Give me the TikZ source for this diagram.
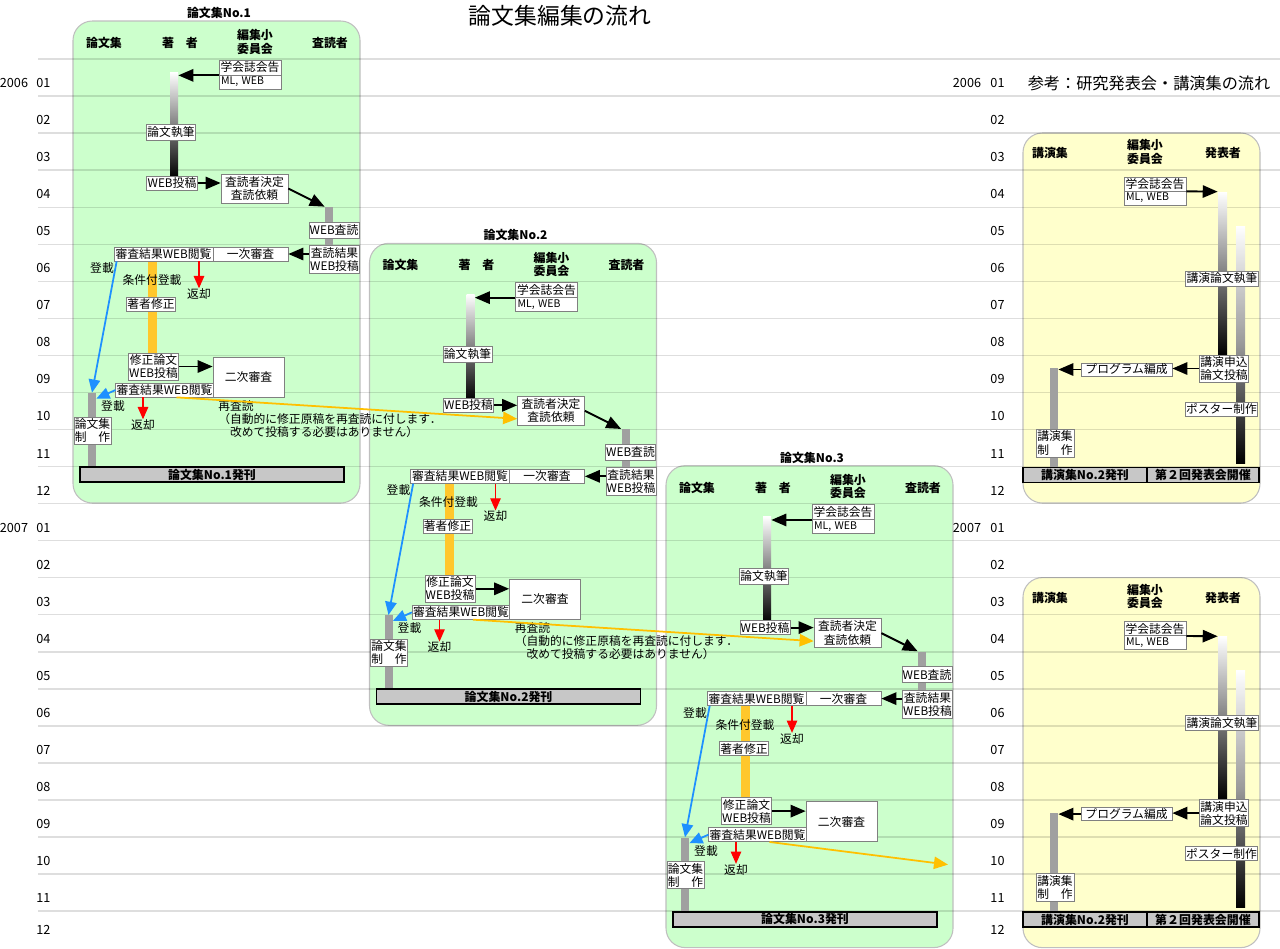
\documentclass[tikz,border=0pt]{standalone}
\usepackage{fontspec}
\setmainfont{Noto Sans CJK JP}
\usetikzlibrary{arrows.meta}
\usetikzlibrary{calc}
\usetikzlibrary{positioning}

\definecolor{panelgreen}{HTML}{CCFFCC}
\definecolor{panelyellow}{HTML}{FFFFCC}
\definecolor{bargray}{HTML}{A0A0A0}
\definecolor{fixorange}{HTML}{FFC72C}
\definecolor{regblue}{HTML}{1E90FF}
\definecolor{reamber}{HTML}{FFC000}

\newcommand\px{0.02cm}
\newcommand\boxfont{\fontsize{6.7}{7.5}\selectfont}
\newcommand\headfont{\fontsize{6.8}{7.6}\selectfont\bfseries}
\newcommand\monthfont{\fontsize{7.2}{8}\selectfont}

\tikzset{
    box/.style={draw=black!50, fill=white, inner sep=0.5pt, font=\boxfont, align=center},
    sz/.style 2 args={minimum width=#1*\px, minimum height=#2*\px},
    mlbox/.style={align=left, text width=58*\px, font=\fontsize{6}{7}\selectfont},
    head/.style={font=\headfont, align=center, inner sep=0pt},
    lab/.style={font=\boxfont, inner sep=0pt},
    month/.style={font=\monthfont, inner sep=0pt},
    rowline/.style={draw=black, opacity=0.13, line width=0.8pt},
    panel/.style={draw=black!25, line width=0.6pt, rounded corners=11pt},
    graybar/.style={fill=bargray, inner sep=0pt, minimum width=8*\px},
    inkbar/.style={top color=white, bottom color=black, inner sep=0pt, minimum width=8*\px},
    issue/.style={draw=black, line width=1pt, fill=black!22, inner sep=0pt, font=\headfont, minimum height=15*\px},
    flow/.style={line width=1.1pt, -{Triangle[length=8.5pt,width=7pt]}},
    back/.style={red, line width=0.6pt, -{Triangle[length=7pt,width=6pt]}},
    reg/.style={regblue, line width=1pt, -{Triangle[length=7.5pt,width=6.5pt]}},
    rerev/.style={reamber, line width=1pt, -{Triangle[length=8pt,width=7pt]}},
}

\begin{document}
\begin{tikzpicture}[x=\px, y=-\px]
\useasboundingbox (0,0) rectangle (1280,948);

\node[font=\fontsize{13}{14}\selectfont] (title) at (560,16) {論文集編集の流れ};
\node[font=\fontsize{9.2}{10}\selectfont] (ktitle) at (1149,83) {参考：研究発表会・講演集の流れ};

% panels
\foreach \n/\dx/\dy in {1/0/0,2/296.5/222.3,3/593/444.6}
    \draw[panel, fill=panelgreen, shift={(\dx,\dy)}] (73,21) rectangle (360,503);
\foreach \dy in {0,444.6}
    \draw[panel, fill=panelyellow, shift={(0,\dy)}] (1023,133) rectangle (1260,503);

% months
\foreach \k in {0,...,23}
    \draw[rowline] (38,59+37.05*\k) -- (1280,59+37.05*\k);
\node[month] (ya) at (14,83) {2006};
\node[month] (yb) at (14,527.6) {2007};
\node[month] (yc) at (967,83) {2006};
\node[month] (yd) at (967,527.6) {2007};
\foreach \m [count=\k from 0] in {01,02,03,04,05,06,07,08,09,10,11,12}{
    \node[month] (la\m) at (43.5,83+37.05*\k) {\m};
    \node[month] (lb\m) at (43.5,{min(83+37.05*(\k+12),930)}) {\m};
    \node[month] (lc\m) at (997.5,83+37.05*\k) {\m};
    \node[month] (ld\m) at (997.5,{min(83+37.05*(\k+12),930)}) {\m};
}

% paper flow
\foreach \n/\dx/\dy in {1/0/0,2/296.5/222.3,3/593/444.6}{
\begin{scope}[shift={(\dx,\dy)}, name prefix=p\n-]
    \node[head] (name) at (219,13) {論文集No.\n};
    \node[head] (h1) at (104,43) {論文集};
    \node[head] (h2) at (180,43) {著　者};
    \node[head] (h3) at (255,42) {編集小\\委員会};
    \node[head] (h4) at (330,43) {査読者};
    \node[inkbar, minimum height=106*\px] (abar) at (174,125) {};
    \node[graybar, minimum height=55*\px] (rbar) at (329,234.5) {};
    \node[graybar, fill=fixorange, minimum width=9*\px, minimum height=92*\px] (obar) at (152.5,307) {};
    \node[graybar, minimum height=74*\px] (pbar) at (92,430) {};
    \node[box, sz={62}{15}] (notice) at (250,67.5) {学会誌会告};
    \node[box, sz={62}{14}, mlbox] (ml) at (250,82) {ML, WEB};
    \node[box, sz={48}{16}] (write) at (171,132) {論文執筆};
    \node[box, sz={46}{14}] (submit) at (172,183) {WEB投稿};
    \node[box, sz={67}{29}] (req) at (254.5,188.5) {査読者決定\\査読依頼};
    \node[box, sz={46}{16}] (webrev) at (334,230) {WEB査読};
    \node[box, sz={47}{28}] (result) at (334.5,259.5) {査読結果\\WEB投稿};
    \node[box, sz={75}{14}] (first) at (250.5,254) {一次審査};
    \node[box, sz={99}{14}] (view1) at (163.5,254) {審査結果WEB閲覧};
    \node[lab] (cond) at (152,280) {条件付登載};
    \node[box, sz={48}{14}] (fix) at (151,304) {著者修正};
    \node[box, sz={49}{27}] (resub) at (153.5,366.5) {修正論文\\WEB投稿};
    \node[box, sz={71}{40}] (second) at (248.5,377) {二次審査};
    \node[box, sz={97}{14}] (view2) at (164.5,390) {審査結果WEB閲覧};
    \node[box, sz={37}{27}] (prod) at (92.5,430.5) {論文集\\制　作};
    \node[issue, minimum width=264*\px] (issue) at (212,474.5) {論文集No.\n{}発刊};
    \node[lab] (ret1) at (199,294) {返却};
    \node[lab] (ret2) at (143,425) {返却};
    \node[lab] (reg1) at (102,268) {登載};
    \node[lab] (reg2) at (113,406) {登載};
    \draw[flow] (notice.south west) -- (abar.east |- notice.south west);
    \draw[flow] (submit.east) -- (submit.east -| req.west);
    \draw[flow] (req.east) -- (rbar.north west);
    \draw[flow] (result.west |- first.east) -- (first.east);
    \draw[flow] (resub.east) -- (resub.east -| second.west);
    \draw[back] (view1.south -| ret1.north) -- (ret1.north);
    \draw[back] (view2.south -| ret2.north) -- (ret2.north);
    \draw[reg] ($(view1.south west)+(3,0)$) -- (pbar.north);
    \draw[reg] (view2.west) -- ($(pbar.north east)+(0,6)$);
    \coordinate (out) at (355,420);
    \ifnum\n<3
        \node[lab] (again) at (236,406) {再査読};
        \node[lab, align=left, anchor=west] (note) at (218,425.5) {（自動的に修正原稿を再査読に付します．\\　改めて投稿する必要はありません）};
    \fi
\end{scope}}
\draw[rerev] ($(p1-view2.south)+(12,0)$) -- ($(p2-req.west)+(0,8)$);
\draw[rerev] ($(p2-view2.south)+(12,0)$) -- ($(p3-req.west)+(0,8)$);
\draw[rerev] ($(p3-view2.south)+(12,0)$) -- (p3-out);

% lecture flow
\foreach \n/\dy in {1/0,2/444.6}{
\begin{scope}[shift={(0,\dy)}, name prefix=k\n-]
    \node[head] (h1) at (1050,153) {講演集};
    \node[head] (h2) at (1145,152) {編集小\\委員会};
    \node[head] (h3) at (1223,153) {発表者};
    \node[inkbar, minimum width=9*\px, minimum height=163*\px] (bar1) at (1222.5,273.5) {};
    \node[inkbar, middle color=black!40, minimum width=9*\px, minimum height=237*\px] (bar2) at (1240.5,344.5) {};
    \node[graybar, minimum height=99*\px] (pbar) at (1054,417.5) {};
    \node[box, sz={62}{14}] (notice) at (1155,184) {学会誌会告};
    \node[box, sz={62}{14}, mlbox] (ml) at (1155,198) {ML, WEB};
    \node[box, sz={72}{15}] (write) at (1222,278.5) {講演論文執筆};
    \node[box, sz={48}{27}] (apply) at (1224,368.5) {講演申込\\論文投稿};
    \node[box, sz={91}{13}] (prog) at (1126.5,369.5) {プログラム編成};
    \node[box, sz={71}{14}] (poster) at (1221.5,409) {ポスター制作};
    \node[box, sz={38}{28}] (prod) at (1055,443) {講演集\\制　作};
    \node[issue, minimum width=124*\px] (issue) at (1085,475) {講演集No.2発刊};
    \node[issue, minimum width=112*\px] (meet) at (1203,475) {第２回発表会開催};
    \draw[flow] (notice.south east) -- (bar1.north west);
    \draw[flow] (apply.west) -- (apply.west -| prog.east);
    \draw[flow] (prog.west) -- (prog.west -| pbar.east);
\end{scope}}
\end{tikzpicture}
\end{document}
